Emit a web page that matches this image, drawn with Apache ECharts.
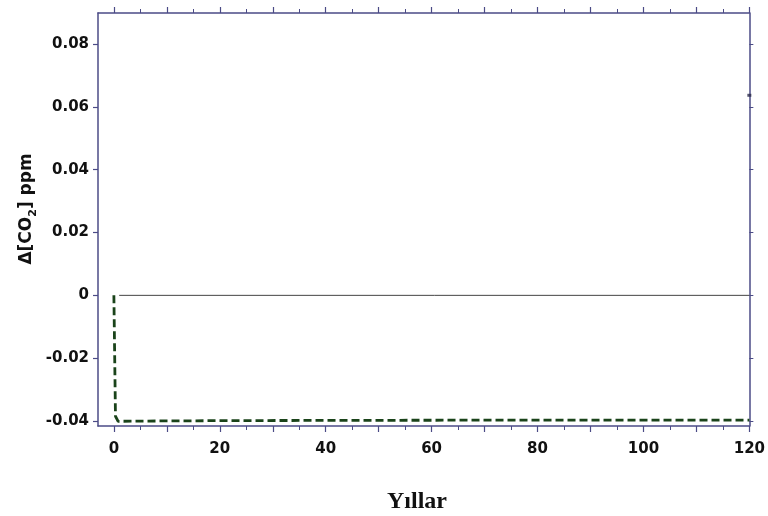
<!DOCTYPE html>
<html><head><meta charset="utf-8">
<script src="https://cdn.jsdelivr.net/npm/echarts@6/dist/echarts.min.js"></script>
<style>html,body{margin:0;padding:0;background:#fff}#c{width:768px;height:516px}</style>
</head><body><div id="c"></div>
<script>
const years = [0, 0.3, 0.8, 8, 20, 44, 88, 120];
const deltaCO2 = [0, -0.0385, -0.0401, -0.0400, -0.0399, -0.0398, -0.0397, -0.0397];
const zeroYears = [1, 120];
const zeroVals = [0, 0];
const xLabels = [0, 20, 40, 60, 80, 100, 120];
const xMajorTicks = [0, 10, 20, 30, 40, 50, 60, 70, 80, 90, 100, 110, 120];
const xMinorTicks = [5, 15, 25, 35, 45, 55, 65, 75, 85, 95, 105, 115];
const yLabels = [-0.04, -0.02, 0, 0.02, 0.04, 0.06, 0.08];
const artifactPoint = [[120, 0.0637]];
const xTitle = 'Yıllar';
const yTitle = 'Δ[CO{sub|2}] ppm';

const axisColor = '#4b4b86';
const fmtY = v => (Math.abs(v) < 1e-9 ? '0' : v.toFixed(2));
const labelFont = {fontFamily: 'DejaVu Sans, sans-serif', fontWeight: 'bold', fontSize: 15, color: '#111'};

const xBase = {type: 'value', min: -3, max: 120, gridIndex: 0, splitLine: {show: false}};
const yBase = {type: 'value', min: -0.0416, max: 0.0899, splitLine: {show: false}};

const chart = echarts.init(document.getElementById('c'));
chart.setOption({
  animation: false,
  grid: {left: 98, right: 16, top: 13, bottom: 90, containLabel: false},
  graphic: [
    {type: 'text', x: 417, y: 502, silent: true,
      style: {text: xTitle, align: 'center', verticalAlign: 'middle', fill: '#111',
        font: 'bold 24px "Liberation Serif", "Times New Roman", serif'}},
    {type: 'text', x: 27, y: 209, rotation: Math.PI / 2, silent: true,
      style: {text: yTitle, align: 'center', verticalAlign: 'middle', fill: '#111',
        fontFamily: 'DejaVu Sans, sans-serif', fontWeight: 'bold', fontSize: 17,
        rich: {sub: {fontFamily: 'DejaVu Sans, sans-serif', fontWeight: 'bold', fontSize: 11, fill: '#111', padding: [12, 0, 0, 0]}}}}
  ],
  xAxis: [
    Object.assign({}, xBase, {position: 'bottom',
      axisLine: {show: true, onZero: false, lineStyle: {color: axisColor, width: 1.5}},
      axisTick: {show: true, customValues: xMajorTicks, length: 6, lineStyle: {color: axisColor, width: 1.2}},
      axisLabel: Object.assign({show: true, customValues: xLabels, margin: 16}, labelFont)
    }),
    Object.assign({}, xBase, {position: 'bottom',
      axisLine: {show: false, onZero: false},
      axisTick: {show: true, customValues: xMinorTicks, length: 4, lineStyle: {color: axisColor, width: 1}},
      axisLabel: {show: false}
    }),
    Object.assign({}, xBase, {position: 'top',
      axisLine: {show: true, onZero: false, lineStyle: {color: axisColor, width: 1.5}},
      axisTick: {show: true, customValues: xMajorTicks, length: 6, lineStyle: {color: axisColor, width: 1.2}},
      axisLabel: {show: false}
    }),
    Object.assign({}, xBase, {position: 'top',
      axisLine: {show: false, onZero: false},
      axisTick: {show: true, customValues: xMinorTicks, length: 4, lineStyle: {color: axisColor, width: 1}},
      axisLabel: {show: false}
    })
  ],
  yAxis: [
    Object.assign({}, yBase, {position: 'left',
      axisLine: {show: true, onZero: false, lineStyle: {color: axisColor, width: 1.5}},
      axisTick: {show: true, customValues: yLabels, length: 5, lineStyle: {color: axisColor, width: 1.2}},
      axisLabel: Object.assign({show: true, customValues: yLabels, margin: 9, formatter: fmtY}, labelFont)
    }),
    Object.assign({}, yBase, {position: 'right',
      axisLine: {show: true, onZero: false, lineStyle: {color: axisColor, width: 1.5}},
      axisTick: {show: true, customValues: yLabels, length: 4, lineStyle: {color: axisColor, width: 1}},
      axisLabel: {show: false}
    })
  ],
  series: [
    {type: 'line', xAxisIndex: 0, yAxisIndex: 0, symbol: 'none', silent: true,
      data: zeroYears.map((x, i) => [x, zeroVals[i]]),
      lineStyle: {color: '#444', width: 1}},
    {type: 'line', xAxisIndex: 0, yAxisIndex: 0, symbol: 'none', silent: true,
      data: years.map((x, i) => [x, deltaCO2[i]]),
      lineStyle: {color: '#1a431a', width: 2.8, type: [8, 4]}},
    {type: 'scatter', xAxisIndex: 0, yAxisIndex: 0, symbol: 'rect', symbolSize: [4, 3], silent: true,
      data: artifactPoint, itemStyle: {color: '#2a2a4a'}}
  ]
});
</script></body></html>
